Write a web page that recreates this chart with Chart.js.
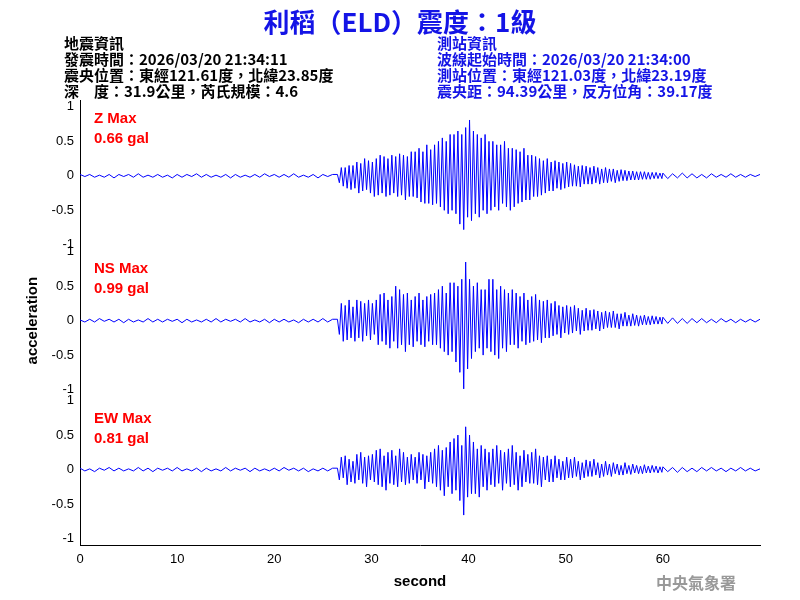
<!DOCTYPE html>
<html><head><meta charset="utf-8">
<script src="https://cdn.jsdelivr.net/npm/chart.js@4"></script>
<style>
body{margin:0;background:#fff;width:800px;height:600px;overflow:hidden;font-family:"Liberation Sans",Arial,sans-serif}
#wrap{position:absolute;left:0;top:0;width:800px;height:600px}
.t{position:absolute;white-space:pre;font-family:"Noto Sans CJK TC","Liberation Sans",sans-serif}
.h{font-size:15px;line-height:16px;font-weight:bold}
.lab{color:#f00;font-size:15px;font-weight:bold;font-family:"Liberation Sans",Arial,sans-serif;line-height:20px}
</style></head><body>
<div id="wrap"><canvas id="c" width="800" height="600"></canvas></div>
<div class="t" style="left:0;width:800px;text-align:center;top:2px;font-size:26px;font-weight:bold;color:#1414e6">利稻（ELD）震度：1級</div>
<div class="t h" style="left:64px;top:35px;color:#000">地震資訊
發震時間：2026/03/20 21:34:11
震央位置：東經121.61度，北緯23.85度
深　度：31.9公里，芮氏規模：4.6</div>
<div class="t h" style="left:437px;top:35px;color:#1414e6">測站資訊
波線起始時間：2026/03/20 21:34:00
測站位置：東經121.03度，北緯23.19度
震央距：94.39公里，反方位角：39.17度</div>
<div class="t lab" style="left:94px;top:108px">Z Max
0.66 gal</div>
<div class="t lab" style="left:94px;top:258px">NS Max
0.99 gal</div>
<div class="t lab" style="left:94px;top:408px">EW Max
0.81 gal</div>
<div class="t" style="left:656px;top:570px;font-size:16px;font-weight:bold;color:#999;font-family:'Noto Sans CJK TC',serif">中央氣象署</div>
<script>
// Sampling times: quiet pre-event (0.5 s), active (0.2 s), tail (0.5 s)
const tPre=[];for(let i=0;i<=52;i++)tPre.push(i*0.5);
const tAct=[];for(let i=0;i<168;i++)tAct.push(+(26.5+i*0.2).toFixed(2));
const tTail=[];for(let i=0;i<=20;i++)tTail.push(60+i*0.5);
const times=tPre.concat(tAct,tTail);

const zPre=[0.02,-0.02,0.01,-0.03,0.02,-0.01,0.03,-0.02,0.02,-0.02,0.01,-0.02,0.03,-0.02,0.02,-0.03,0.02,-0.01,0.02,-0.02,0.03,-0.02,0.01,-0.02,0.02,-0.03,0.02,-0.02,0.01,-0.02,0.03,-0.02,0.02,-0.01,0.02,-0.03,0.02,-0.02,0.01,-0.02,0.02,-0.02,0.03,-0.01,0.02,-0.02,0.02,-0.03,0.01,-0.02,0.02,-0.02,0.02];
const zAct=[0.02,-0.15,0.18,-0.12,0.2,-0.22,0.15,-0.18,0.12,-0.2,
0.22,-0.15,0.25,-0.2,0.18,-0.25,0.2,-0.15,0.22,-0.18,
0.28,-0.22,0.3,-0.25,0.2,-0.3,0.25,-0.2,0.28,-0.22,
0.2,-0.25,0.3,-0.18,0.25,-0.22,0.18,-0.2,0.22,-0.15,
0.18,-0.2,0.25,-0.15,0.22,-0.28,0.2,-0.18,0.25,-0.2,
0.3,-0.25,0.35,-0.3,0.28,-0.38,0.32,-0.25,0.4,-0.35,
0.45,-0.3,0.5,-0.45,0.35,-0.66,0.62,-0.4,0.5,-0.35,
0.4,-0.35,0.3,-0.4,0.35,-0.25,0.3,-0.3,0.25,-0.22,
0.3,-0.25,0.35,-0.2,0.28,-0.3,0.25,-0.2,0.3,-0.25,
0.35,-0.22,0.25,-0.3,0.2,-0.25,0.28,-0.18,0.22,-0.2,
0.25,-0.2,0.3,-0.22,0.2,-0.25,0.18,-0.15,0.2,-0.18,
0.15,-0.18,0.2,-0.12,0.15,-0.15,0.12,-0.15,0.18,-0.12,
0.15,-0.12,0.18,-0.1,0.12,-0.15,0.1,-0.12,0.14,-0.1,
0.12,-0.1,0.15,-0.08,0.1,-0.12,0.08,-0.1,0.12,-0.08,
0.08,-0.1,0.1,-0.06,0.08,-0.08,0.06,-0.08,0.1,-0.06,
0.06,-0.07,0.08,-0.05,0.06,-0.06,0.05,-0.06,0.07,-0.05,
0.05,-0.05,0.06,-0.04,0.05,-0.05,0.04,-0.04];
const zTail=[0.04,-0.03,0.03,-0.04,0.03,-0.03,0.02,-0.03,0.03,-0.02,0.03,-0.02,0.02,-0.03,0.02,-0.02,0.03,-0.02,0.02,-0.02,0.01];

const nsPre=[0.01,-0.02,0.02,-0.02,0.03,-0.01,0.02,-0.02,0.02,-0.03,0.02,-0.02,0.01,-0.02,0.03,-0.02,0.02,-0.02,0.02,-0.01,0.02,-0.03,0.02,-0.02,0.01,-0.02,0.02,-0.02,0.03,-0.02,0.02,-0.01,0.02,-0.02,0.03,-0.02,0.01,-0.02,0.02,-0.03,0.02,-0.02,0.02,-0.02,0.01,-0.03,0.02,-0.02,0.02,-0.02,0.03,-0.02,0.02];
const nsAct=[0.02,-0.2,0.25,-0.3,0.22,-0.28,0.3,-0.25,0.2,-0.3,
0.3,-0.25,0.28,-0.3,0.25,-0.22,0.3,-0.28,0.25,-0.2,
0.3,-0.35,0.38,-0.3,0.4,-0.35,0.3,-0.4,0.35,-0.3,
0.5,-0.4,0.45,-0.35,0.38,-0.45,0.4,-0.35,0.3,-0.38,
0.35,-0.3,0.4,-0.35,0.3,-0.38,0.35,-0.3,0.38,-0.35,
0.4,-0.35,0.45,-0.4,0.5,-0.45,0.4,-0.5,0.55,-0.45,
0.55,-0.6,0.5,-0.75,0.6,-0.99,0.85,-0.7,0.6,-0.55,
0.5,-0.45,0.55,-0.4,0.45,-0.5,0.45,-0.4,0.6,-0.45,
0.6,-0.5,0.45,-0.55,0.5,-0.4,0.45,-0.45,0.4,-0.35,
0.45,-0.35,0.4,-0.4,0.35,-0.3,0.4,-0.35,0.3,-0.32,
0.35,-0.3,0.38,-0.28,0.3,-0.32,0.28,-0.25,0.3,-0.25,
0.25,-0.22,0.28,-0.2,0.22,-0.25,0.2,-0.18,0.22,-0.2,
0.2,-0.18,0.22,-0.15,0.18,-0.2,0.15,-0.15,0.18,-0.14,
0.15,-0.14,0.16,-0.12,0.14,-0.15,0.12,-0.12,0.14,-0.1,
0.12,-0.1,0.14,-0.1,0.1,-0.12,0.1,-0.08,0.12,-0.08,
0.08,-0.08,0.1,-0.07,0.08,-0.08,0.07,-0.06,0.08,-0.06,
0.06,-0.06,0.07,-0.05,0.06,-0.05,0.05,-0.05];
const nsTail=[0.05,-0.04,0.04,-0.04,0.03,-0.04,0.03,-0.03,0.03,-0.03,0.02,-0.03,0.03,-0.02,0.02,-0.03,0.02,-0.02,0.02,-0.02,0.02];

const ewPre=[0.02,-0.01,0.02,-0.02,0.01,-0.02,0.02,-0.03,0.02,-0.01,0.02,-0.02,0.03,-0.02,0.01,-0.02,0.02,-0.02,0.01,-0.03,0.02,-0.02,0.02,-0.01,0.03,-0.02,0.02,-0.02,0.01,-0.02,0.02,-0.03,0.02,-0.02,0.01,-0.02,0.02,-0.02,0.03,-0.01,0.02,-0.02,0.02,-0.02,0.03,-0.02,0.01,-0.02,0.02,-0.03,0.02,-0.01,0.02];
const ewAct=[0.02,-0.1,0.12,-0.15,0.12,-0.18,0.15,-0.2,0.15,-0.18,
0.2,-0.25,0.18,-0.22,0.25,-0.2,0.22,-0.25,0.2,-0.3,
0.25,-0.28,0.3,-0.25,0.28,-0.3,0.25,-0.28,0.3,-0.25,
0.28,-0.3,0.32,-0.28,0.3,-0.35,0.28,-0.3,0.35,-0.3,
0.35,-0.32,0.4,-0.38,0.35,-0.4,0.45,-0.4,0.38,-0.42,
0.45,-0.4,0.5,-0.45,0.55,-0.5,0.5,-0.55,0.6,-0.5,
0.6,-0.55,0.65,-0.7,0.6,-0.78,0.7,-0.6,0.81,-0.65,
0.65,-0.55,0.6,-0.6,0.55,-0.5,0.6,-0.55,0.5,-0.5,
0.5,-0.45,0.45,-0.5,0.45,-0.4,0.5,-0.45,0.4,-0.5,
0.4,-0.45,0.38,-0.4,0.35,-0.38,0.4,-0.35,0.3,-0.35,
0.3,-0.3,0.28,-0.3,0.25,-0.28,0.22,-0.25,0.25,-0.22,
0.2,-0.22,0.22,-0.18,0.2,-0.2,0.18,-0.18,0.2,-0.16,
0.18,-0.15,0.16,-0.15,0.14,-0.16,0.15,-0.12,0.14,-0.12,
0.12,-0.12,0.14,-0.1,0.12,-0.12,0.1,-0.1,0.12,-0.1,
0.1,-0.08,0.1,-0.1,0.08,-0.08,0.09,-0.07,0.08,-0.07,
0.07,-0.06,0.07,-0.06,0.06,-0.06,0.06,-0.05,0.06,-0.05,
0.05,-0.05,0.05,-0.04,0.05,-0.04,0.04,-0.04];
const ewTail=[0.04,-0.04,0.03,-0.03,0.04,-0.03,0.03,-0.03,0.02,-0.03,0.03,-0.02,0.02,-0.02,0.03,-0.02,0.02,-0.02,0.02,-0.01,0.02];

const yTicks=[-1,-0.5,0,0.5,1];
const xTicks=[0,10,20,30,40,50,60];

function pts(a){return times.map((t,i)=>({x:t,y:a[i]}));}
const tickFont={family:"Liberation Sans, Arial",size:13};
function yAxis(min,max,weight,title){
  return {type:'linear',stack:'s',stackWeight:weight,min:min,max:max,position:'left',
    grid:{display:false,drawTicks:true,tickLength:4},border:{display:true,color:'#000',width:1},
    afterBuildTicks:s=>{s.ticks=yTicks.map(v=>({value:v}));},
    afterFit:s=>{s.width=80;},
    ticks:{color:'#000',font:tickFont,padding:2,callback:v=>String(v)},
    title:title?{display:true,text:'acceleration',color:'#000',font:{family:"Liberation Sans, Arial",size:15,weight:'bold'},padding:{top:24,bottom:0}}:{display:false}};
}
const ds=(d,ax)=>({data:pts(d),yAxisID:ax,borderColor:'#0000ff',borderWidth:1,pointRadius:0,tension:0,fill:false});
new Chart(document.getElementById('c'),{
  type:'line',
  data:{datasets:[ds(zPre.concat(zAct,zTail),'y1'),ds(nsPre.concat(nsAct,nsTail),'y2'),ds(ewPre.concat(ewAct,ewTail),'y3')]},
  options:{responsive:false,animation:false,events:[],
    layout:{padding:{left:0,right:40,top:100,bottom:5}},
    plugins:{legend:{display:false},tooltip:{enabled:false}},
    scales:{
      x:{type:'linear',min:0,max:70,grid:{display:false,tickLength:4},border:{color:'#000'},
        afterBuildTicks:s=>{s.ticks=xTicks.map(v=>({value:v}));},
        ticks:{color:'#000',font:tickFont,padding:2},
        title:{display:true,text:'second',color:'#000',font:{family:"Liberation Sans, Arial",size:15,weight:'bold'},padding:{top:4}}},
      y1:yAxis(-1.1,1.06,2.16,false),
      y2:yAxis(-1.1,1.1,2.2,true),
      y3:yAxis(-1,1.1,2.1,false)
    }}
});
</script></body></html>
